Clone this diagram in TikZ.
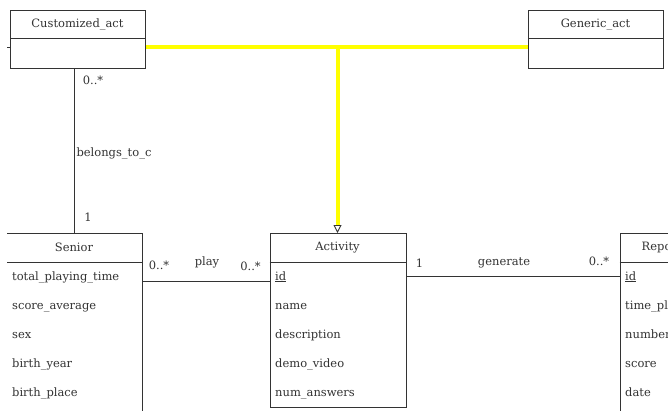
\documentclass[tikz,border=0pt]{standalone}
\usepackage{fontspec}
\setmainfont{DejaVu Serif}
\usetikzlibrary{arrows.meta}
\definecolor{linec}{HTML}{333333}
\definecolor{txt}{HTML}{333333}
\definecolor{genc}{HTML}{FFFF00}
\begin{document}
\begin{tikzpicture}[x=1pt,y=-1pt,
  classbox/.style={draw=linec, line width=0.8pt, fill=white, inner sep=0pt, anchor=north west},
  ctitle/.style={font=\fontsize{11.5}{13}\selectfont, text=txt, inner sep=0pt},
  attr/.style={font=\fontsize{11.5}{13}\selectfont, text=txt, anchor=west, inner sep=0pt, text height=8.5pt, text depth=2.5pt},
  conn/.style={draw=linec, line width=0.8pt},
  lbl/.style={font=\fontsize{11.5}{13}\selectfont, text=txt, inner sep=0pt},
  inherit/.style={draw=genc, line width=4pt}]
\useasboundingbox (0,0) rectangle (668,410);
\fill[white] (0,0) rectangle (668,410);
\begin{scope}
\clip (7,0) rectangle (668,410);

% ---------- class boxes ----------
\node[classbox, minimum width=135pt, minimum height=58pt] (cust) at (10,9.5) {};
\draw[conn] (10,38.5) -- (145,38.5);
\node[ctitle] (custT) at (77.5,24) {Customized\_act};

\node[classbox, minimum width=135pt, minimum height=58pt] (gen) at (528,9.5) {};
\draw[conn] (528,38.5) -- (663,38.5);
\node[ctitle] (genT) at (595.5,24.5) {Generic\_act};

\node[classbox, minimum width=136pt, minimum height=185pt] (sen) at (6,233) {};
\draw[conn] (6,262) -- (142,262);
\node[ctitle] (senT) at (74,247.5) {Senior};
\node[attr] (s1) at (12,277) {total\_playing\_time};
\node[attr] (s2) at (12,306) {score\_average};
\node[attr] (s3) at (12,335) {sex};
\node[attr] (s4) at (12,364) {birth\_year};
\node[attr] (s5) at (12,393) {birth\_place};

\node[classbox, minimum width=136pt, minimum height=174pt] (act) at (269.5,233) {};
\draw[conn] (269.5,262) -- (405.5,262);
\node[ctitle] (actT) at (337.5,247.5) {Activity};
\node[attr] (a1) at (275,277) {\underline{id}};
\node[attr] (a2) at (275,306) {name};
\node[attr] (a3) at (275,335) {description};
\node[attr] (a4) at (275,364) {demo\_video};
\node[attr] (a5) at (275,393) {num\_answers};

\node[classbox, minimum width=92pt, minimum height=185pt] (rep) at (619.5,233) {};
\draw[conn] (619.5,262) -- (711.5,262);
\node[ctitle, anchor=west] (repT) at (641.5,247.5) {Report};
\node[attr] (r1) at (625,277) {\underline{id}};
\node[attr] (r2) at (625,306) {time\_played};
\node[attr] (r3) at (625,335) {number\_answers};
\node[attr] (r4) at (625,364) {score};
\node[attr] (r5) at (625,393) {date};

% ---------- helper coordinates ----------
\coordinate (bx) at (74,0);
\coordinate (pl) at (0,281);
\coordinate (gn) at (0,276);
\coordinate (j) at (337.5,47);
\coordinate (stub) at (7,47);

% ---------- associations ----------
\draw[conn] (stub) -- (cust.west |- stub);
\draw[conn] (cust.south -| bx) -- (sen.north -| bx);
\node[lbl] (m1) at (93,80) {0..*};
\node[lbl] (bl) at (114,153) {belongs\_to\_c};
\node[lbl] (m2) at (88,217) {1};

\draw[conn] (sen.east |- pl) -- (act.west |- pl);
\node[lbl] (m3) at (159,265) {0..*};
\node[lbl] (pll) at (207,262.5) {play};
\node[lbl] (m4) at (250.5,266) {0..*};

\draw[conn] (act.east |- gn) -- (rep.west |- gn);
\node[lbl] (m5) at (419.5,263) {1};
\node[lbl] (gl) at (504,263) {generate};
\node[lbl] (m6) at (599,261) {0..*};

% ---------- generalization ----------
\draw[inherit] (cust.east |- j) -- (gen.west |- j);
\draw[inherit, -{Triangle[length=8pt, width=8pt, line width=0.9pt, linec, fill=white]}] (j) -- (act.north -| j);
\end{scope}
\end{tikzpicture}
\end{document}
